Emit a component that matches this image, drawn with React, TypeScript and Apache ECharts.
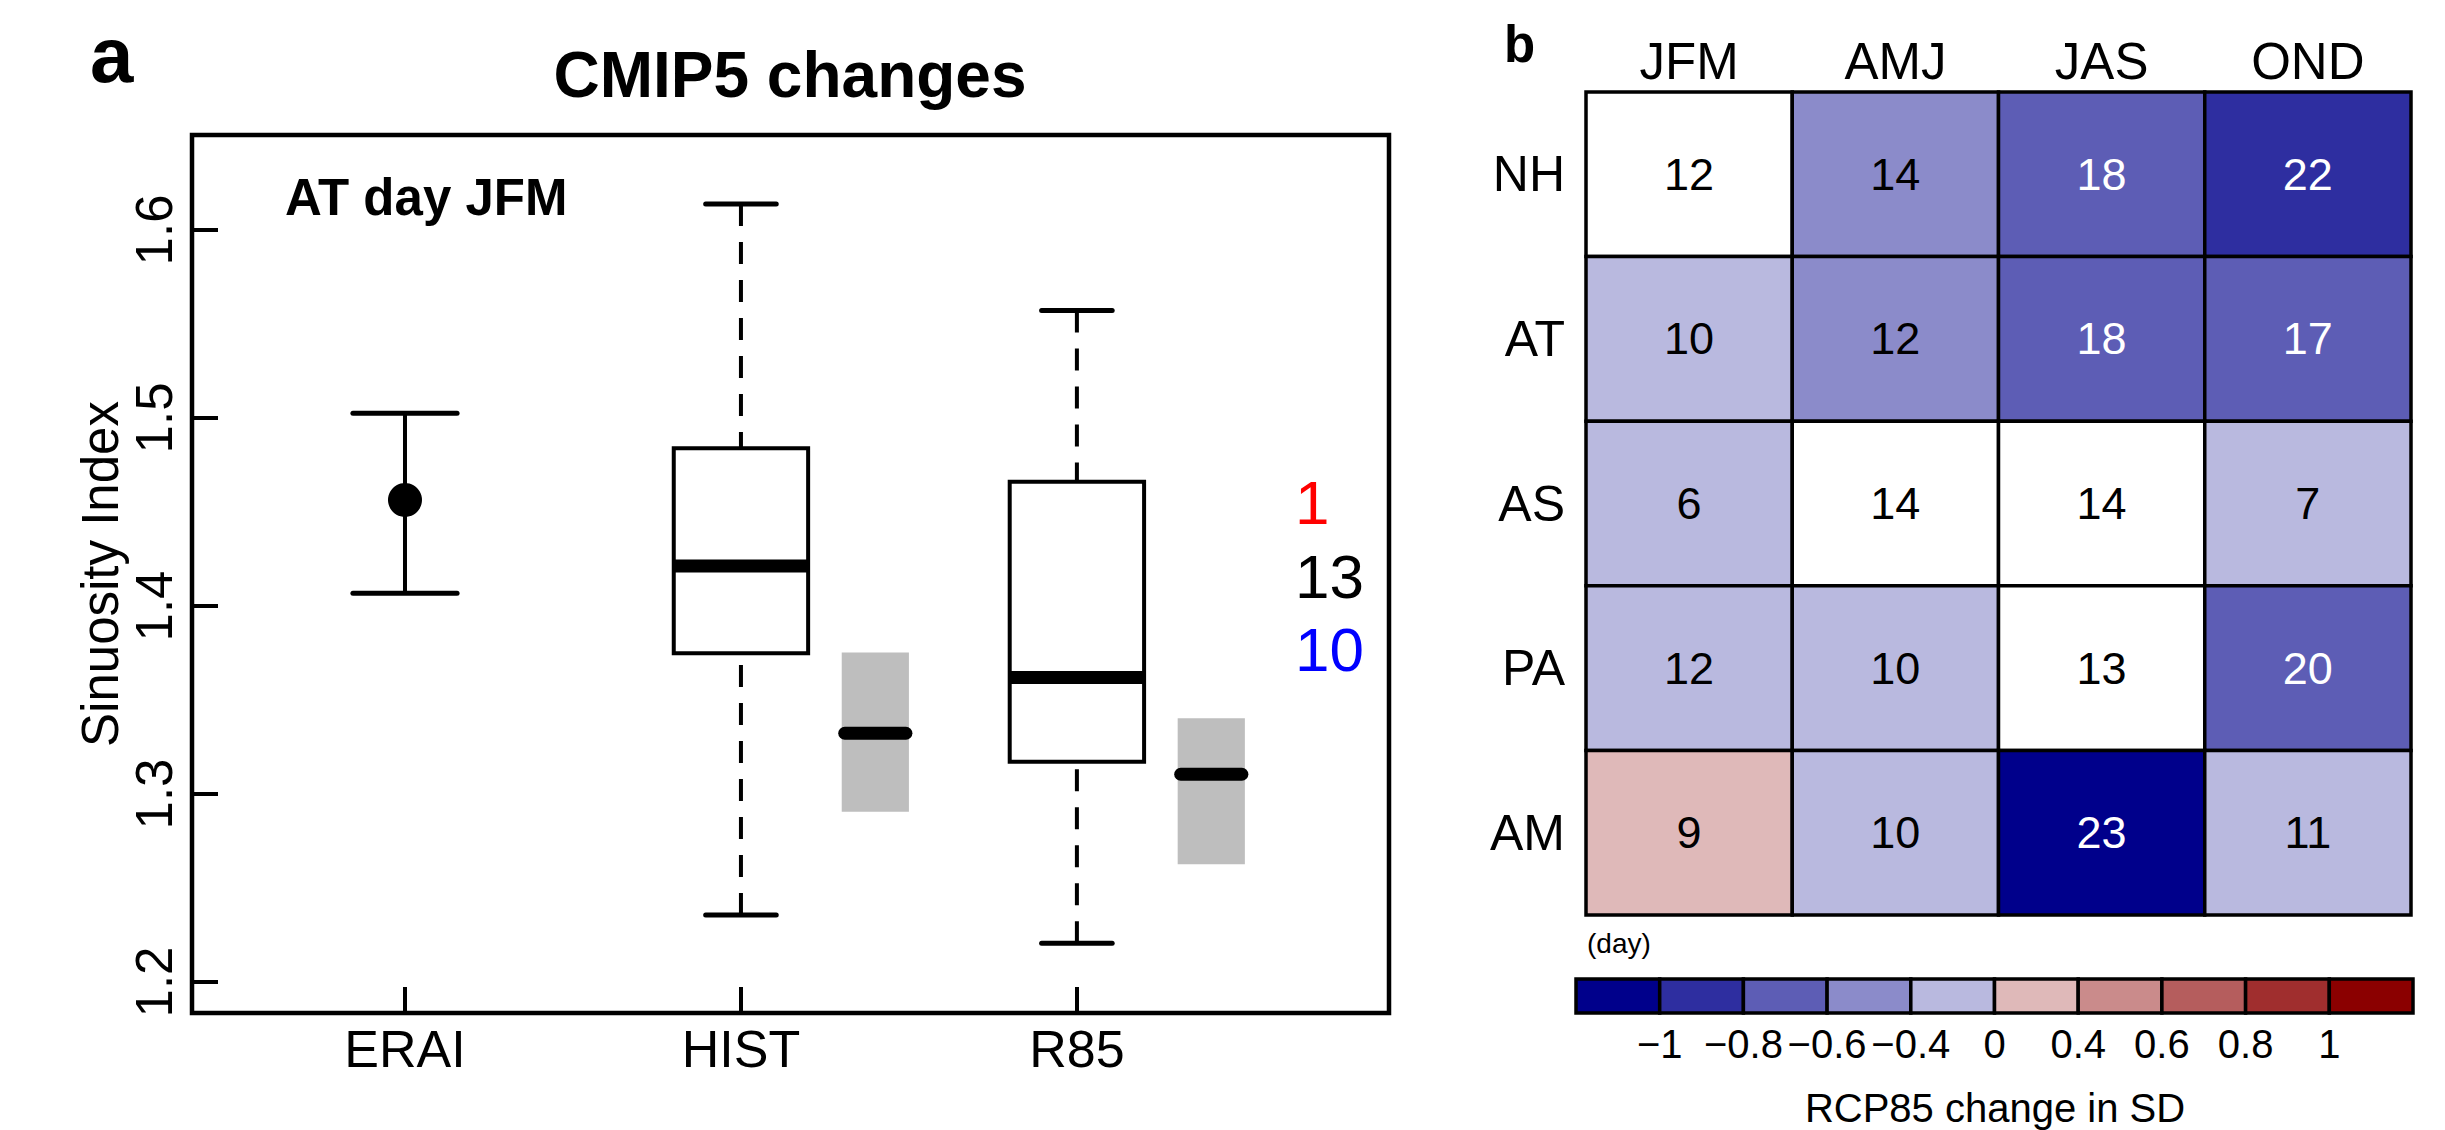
import React, { useEffect, useRef } from "react";
import * as echarts from "echarts";

// ---------- Panel a data ----------
const models = ["ERAI", "HIST", "R85"];
const eraiStats = [1.4067, 1.4564, 1.5025]; // low, mean, high
const histBox = [1.2356, 1.3748, 1.4213, 1.4839, 1.6138]; // whiskerLo, q1, median, q3, whiskerHi
const r85Box = [1.2206, 1.3172, 1.3619, 1.4661, 1.5571];
const histRange = [1.2906, 1.3323, 1.3753]; // low, median, high (grey band)
const r85Range = [1.2626, 1.3105, 1.3403];
const yTicks = [1.2, 1.3, 1.4, 1.5, 1.6];
const countTexts = ["1", "13", "10"];
const countColors = ["#FF0000", "#000000", "#0000FF"];

// ---------- Panel b data ----------
const seasons = ["JFM", "AMJ", "JAS", "OND"];
const regions = ["NH", "AT", "AS", "PA", "AM"];
const days = [
  [12, 14, 18, 22],
  [10, 12, 18, 17],
  [6, 14, 14, 7],
  [12, 10, 13, 20],
  [9, 10, 23, 11],
];
// change in SD (null = not shown / white)
const sdChange = [
  [null, -0.5, -0.7, -0.9],
  [-0.2, -0.5, -0.7, -0.7],
  [-0.2, null, null, -0.2],
  [-0.2, -0.2, null, -0.7],
  [0.2, -0.2, -1.1, -0.2],
];
const breaks = [-1.2, -1, -0.8, -0.6, -0.4, 0, 0.4, 0.6, 0.8, 1, 1.2];
const cbColors = [
  "#00008B", "#2E2EA0", "#5D5DB5", "#8B8BCA", "#B9B9DF",
  "#DFB9B9", "#CA8B8B", "#B55D5D", "#A02E2E", "#8B0000",
];
const cbLabels = ["", "\u22121", "\u22120.8", "\u22120.6", "\u22120.4", "0", "0.4", "0.6", "0.8", "1", ""];

const FF = '"Liberation Sans", Arial, Helvetica, sans-serif';
const fnt = (size: number, bold = false) => `${bold ? "bold " : ""}${size}px ${FF}`;

function binIndex(v: number) {
  for (let i = 0; i < breaks.length - 1; i++) {
    if (v >= breaks[i] && v < breaks[i + 1]) return i;
  }
  return v < breaks[0] ? 0 : breaks.length - 2;
}

export default function App() {
  const ref = useRef<HTMLDivElement>(null);

  useEffect(() => {
    document.body.style.margin = "0";
    const chart = echarts.init(ref.current!, undefined, { renderer: "svg" });

    const BOX_HALF = 0.2;
    const CAP_HALF = 0.105;
    const ERAI_CAP_HALF = 0.155;
    const RANGE_HALF = 0.1;
    const RANGE_OFFSET = 0.4;

    const boxData = [
      [2, ...histBox],
      [3, ...r85Box],
    ];
    const rangeData = [
      [2 + RANGE_OFFSET, ...histRange],
      [3 + RANGE_OFFSET, ...r85Range],
    ];
    const eraiData = [[1, ...eraiStats]];

    const heatData: number[][] = [];
    regions.forEach((_, r) => seasons.forEach((_, c) => heatData.push([c, r])));

    const cbData = cbColors.map((_, i) => [i, 0, 1]);

    const option: any = {
      animation: false,
      backgroundColor: "#ffffff",
      textStyle: { fontFamily: FF },
      grid: [
        { left: 192, top: 135, width: 1197, height: 878, show: true, borderColor: "#000", borderWidth: 4.5, backgroundColor: "transparent" },
        { left: 1586, top: 92, width: 825, height: 823 },
        { left: 1576, top: 979, width: 837, height: 34 },
      ],
      xAxis: [
        {
          gridIndex: 0, type: "value", min: 0.366, max: 3.929,
          axisLine: { show: false }, splitLine: { show: false },
          axisTick: { show: true, inside: true, length: 26, customValues: [1, 2, 3], lineStyle: { color: "#000", width: 4 } },
          axisLabel: { customValues: [1, 2, 3], formatter: (v: number) => models[Math.round(v) - 1], fontSize: 52, color: "#000", margin: 10, fontFamily: FF },
        },
        {
          gridIndex: 1, type: "category", data: seasons, position: "top",
          axisLine: { show: false }, axisTick: { show: false }, splitLine: { show: false },
          axisLabel: { fontSize: 51, color: "#000", margin: 5, fontFamily: FF },
        },
        {
          gridIndex: 2, type: "value", min: 0, max: 10, interval: 1,
          axisLine: { show: false }, axisTick: { show: false }, splitLine: { show: false },
          axisLabel: { formatter: (v: number) => cbLabels[Math.round(v)], fontSize: 40, color: "#000", margin: 11, fontFamily: FF, showMinLabel: true, showMaxLabel: true },
        },
      ],
      yAxis: [
        {
          gridIndex: 0, type: "value", min: 1.1835, max: 1.6505,
          name: "Sinuosity Index", nameLocation: "middle", nameGap: 66,
          nameTextStyle: { fontSize: 51, color: "#000", fontFamily: FF },
          axisLine: { show: false }, splitLine: { show: false },
          axisTick: { show: true, inside: true, length: 26, customValues: yTicks, lineStyle: { color: "#000", width: 4 } },
          axisLabel: { customValues: yTicks, rotate: 90, formatter: (v: number) => v.toFixed(1), fontSize: 51, color: "#000", margin: 12, fontFamily: FF },
        },
        {
          gridIndex: 1, type: "category", data: regions, inverse: true,
          axisLine: { show: false }, axisTick: { show: false }, splitLine: { show: false },
          axisLabel: { fontSize: 50, color: "#000", margin: 21, fontFamily: FF },
        },
        { gridIndex: 2, type: "value", min: 0, max: 1, show: false },
      ],
      series: [
        // grey ranges
        {
          type: "custom", xAxisIndex: 0, yAxisIndex: 0, data: rangeData,
          renderItem: (params: any, api: any) => {
            const x = api.value(0);
            const lo = api.value(1), med = api.value(2), hi = api.value(3);
            const a = api.coord([x - RANGE_HALF, hi]);
            const b = api.coord([x + RANGE_HALF, lo]);
            const m0 = api.coord([x - RANGE_HALF, med]);
            const m1 = api.coord([x + RANGE_HALF, med]);
            return {
              type: "group",
              children: [
                { type: "rect", shape: { x: a[0], y: a[1], width: b[0] - a[0], height: b[1] - a[1] }, style: { fill: "#BEBEBE" } },
                { type: "line", shape: { x1: m0[0] + 3, y1: m0[1], x2: m1[0] - 3, y2: m1[1] }, style: { stroke: "#000", lineWidth: 13, lineCap: "round" } },
              ],
            };
          },
        },
        // box plots
        {
          type: "custom", xAxisIndex: 0, yAxisIndex: 0, data: boxData,
          renderItem: (params: any, api: any) => {
            const x = api.value(0);
            const wlo = api.value(1), q1 = api.value(2), med = api.value(3), q3 = api.value(4), whi = api.value(5);
            const P = (xx: number, yy: number) => api.coord([xx, yy]);
            const tl = P(x - BOX_HALF, q3), br = P(x + BOX_HALF, q1);
            const c = P(x, 0);
            const yLo = P(x, wlo)[1], yQ1 = P(x, q1)[1], yQ3 = P(x, q3)[1], yHi = P(x, whi)[1], yMed = P(x, med)[1];
            const capL = P(x - CAP_HALF, 0)[0], capR = P(x + CAP_HALF, 0)[0];
            const dash = { stroke: "#000", lineWidth: 4, lineDash: [22, 16], fill: null };
            return {
              type: "group",
              children: [
                { type: "line", shape: { x1: c[0], y1: yHi, x2: c[0], y2: yQ3 }, style: dash },
                { type: "line", shape: { x1: c[0], y1: yLo, x2: c[0], y2: yQ1 }, style: dash },
                { type: "line", shape: { x1: capL, y1: yHi, x2: capR, y2: yHi }, style: { stroke: "#000", lineWidth: 5, lineCap: "round" } },
                { type: "line", shape: { x1: capL, y1: yLo, x2: capR, y2: yLo }, style: { stroke: "#000", lineWidth: 5, lineCap: "round" } },
                { type: "rect", shape: { x: tl[0], y: tl[1], width: br[0] - tl[0], height: br[1] - tl[1] }, style: { fill: "#fff", stroke: "#000", lineWidth: 4 } },
                { type: "line", shape: { x1: tl[0], y1: yMed, x2: br[0], y2: yMed }, style: { stroke: "#000", lineWidth: 13 } },
              ],
            };
          },
        },
        // ERAI error bar
        {
          type: "custom", xAxisIndex: 0, yAxisIndex: 0, data: eraiData,
          renderItem: (params: any, api: any) => {
            const x = api.value(0);
            const lo = api.value(1), mean = api.value(2), hi = api.value(3);
            const cLo = api.coord([x, lo]), cHi = api.coord([x, hi]), cM = api.coord([x, mean]);
            const capL = api.coord([x - ERAI_CAP_HALF, lo])[0], capR = api.coord([x + ERAI_CAP_HALF, lo])[0];
            return {
              type: "group",
              children: [
                { type: "line", shape: { x1: cLo[0], y1: cLo[1], x2: cHi[0], y2: cHi[1] }, style: { stroke: "#000", lineWidth: 4 } },
                { type: "line", shape: { x1: capL, y1: cLo[1], x2: capR, y2: cLo[1] }, style: { stroke: "#000", lineWidth: 5, lineCap: "round" } },
                { type: "line", shape: { x1: capL, y1: cHi[1], x2: capR, y2: cHi[1] }, style: { stroke: "#000", lineWidth: 5, lineCap: "round" } },
                { type: "circle", shape: { cx: cM[0], cy: cM[1], r: 17 }, style: { fill: "#000" } },
              ],
            };
          },
        },
        // heatmap cells
        {
          type: "custom", xAxisIndex: 1, yAxisIndex: 1, data: heatData,
          renderItem: (params: any, api: any) => {
            const c = api.value(0), r = api.value(1);
            const center = api.coord([c, r]);
            const size = api.size([1, 1]);
            const v = sdChange[r][c];
            let fill = "#FFFFFF";
            let textFill = "#000";
            if (v !== null && v !== undefined) {
              const bi = binIndex(v);
              fill = cbColors[bi];
              if (bi <= 2) textFill = "#FFF";
            }
            return {
              type: "group",
              children: [
                { type: "rect", shape: { x: center[0] - size[0] / 2, y: center[1] - size[1] / 2, width: size[0], height: size[1] }, style: { fill, stroke: "#000", lineWidth: 3.5 } },
                { type: "text", x: center[0], y: center[1], style: { text: String(days[r][c]), font: fnt(45), fill: textFill, align: "center", verticalAlign: "middle", textAlign: "center", textVerticalAlign: "middle" } },
              ],
            };
          },
        },
        // colour bar
        {
          type: "custom", xAxisIndex: 2, yAxisIndex: 2, data: cbData,
          renderItem: (params: any, api: any) => {
            const i = api.value(0);
            const a = api.coord([i, api.value(2)]);
            const b = api.coord([i + 1, api.value(1)]);
            return { type: "rect", shape: { x: a[0], y: a[1], width: b[0] - a[0], height: b[1] - a[1] }, style: { fill: cbColors[params.dataIndex], stroke: "#000", lineWidth: 3.5 } };
          },
        },
      ],
      graphic: [
        { type: "text", x: 90, y: 55, style: { text: "a", font: fnt(78, true), fill: "#000", align: "left", verticalAlign: "middle", textAlign: "left", textVerticalAlign: "middle" } },
        { type: "text", x: 790, y: 75, style: { text: "CMIP5 changes", font: fnt(64, true), fill: "#000", align: "center", verticalAlign: "middle", textAlign: "center", textVerticalAlign: "middle" } },
        { type: "text", x: 285, y: 197, style: { text: "AT day JFM", font: fnt(51, true), fill: "#000", align: "left", verticalAlign: "middle", textAlign: "left", textVerticalAlign: "middle" } },
        ...countTexts.map((t, i) => ({
          type: "text", x: 1295, y: [502, 576, 649][i],
          style: { text: t, font: fnt(62), fill: countColors[i], align: "left", verticalAlign: "middle", textAlign: "left", textVerticalAlign: "middle" },
        })),
        { type: "text", x: 1504, y: 44, style: { text: "b", font: fnt(51, true), fill: "#000", align: "left", verticalAlign: "middle", textAlign: "left", textVerticalAlign: "middle" } },
        { type: "text", x: 1587, y: 943, style: { text: "(day)", font: fnt(28), fill: "#000", align: "left", verticalAlign: "middle", textAlign: "left", textVerticalAlign: "middle" } },
        { type: "text", x: 1995, y: 1108, style: { text: "RCP85 change in SD", font: fnt(40), fill: "#000", align: "center", verticalAlign: "middle", textAlign: "center", textVerticalAlign: "middle" } },
      ],
    };

    chart.setOption(option);
    return () => chart.dispose();
  }, []);

  return <div ref={ref} style={{ width: 2445, height: 1130 }} />;
}
